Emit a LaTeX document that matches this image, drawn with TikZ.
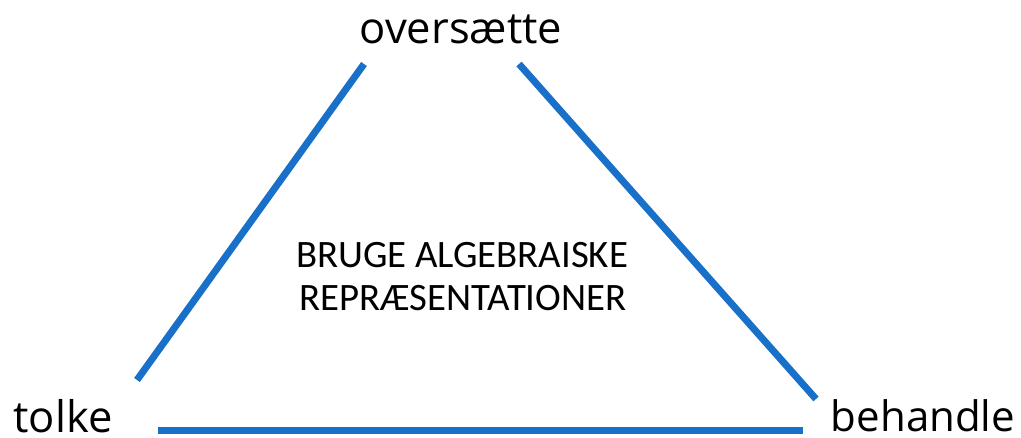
\documentclass[tikz,border=0pt]{standalone}
\usepackage{fontspec}
\setmainfont{Open Sans}
\newfontfamily\centerfont{Carlito}
\definecolor{edgeblue}{RGB}{24,112,200}
\begin{document}
\begin{tikzpicture}[x=1pt,y=-1pt,
  edge/.style={draw=edgeblue,line width=7pt},
  corner/.style={font=\fontsize{43.5}{52}\selectfont,inner sep=0pt,anchor=base,text depth=0pt},
  caption/.style={font=\centerfont\fontsize{38.8}{46}\selectfont,inner sep=0pt,anchor=base}]
\useasboundingbox (0,0) rectangle (1021,437);
% corner labels
\node[corner] (top) at (461,43) {oversætte};
\node[corner] (left) at (63,432) {tolke};
\node[corner,font=\fontsize{42}{50}\selectfont] (right) at (923,431) {behandle};
% ends of the three sides
\coordinate (lt) at (364,64);
\coordinate (lb) at (137,380);
\coordinate (rt) at (519,64);
\coordinate (rb) at (816,399);
\coordinate (bl) at (158,430);
\coordinate (br) at (803,430);
\draw[edge] (lt) -- (lb);
\draw[edge] (rt) -- (rb);
\draw[edge] (bl) -- (br);
% caption in the middle
\node[caption] (l1) at (462,267) {BRUGE ALGEBRAISKE};
\node[caption] (l2) at (463,310) {REPRÆSENTATIONER};
\end{tikzpicture}
\end{document}
